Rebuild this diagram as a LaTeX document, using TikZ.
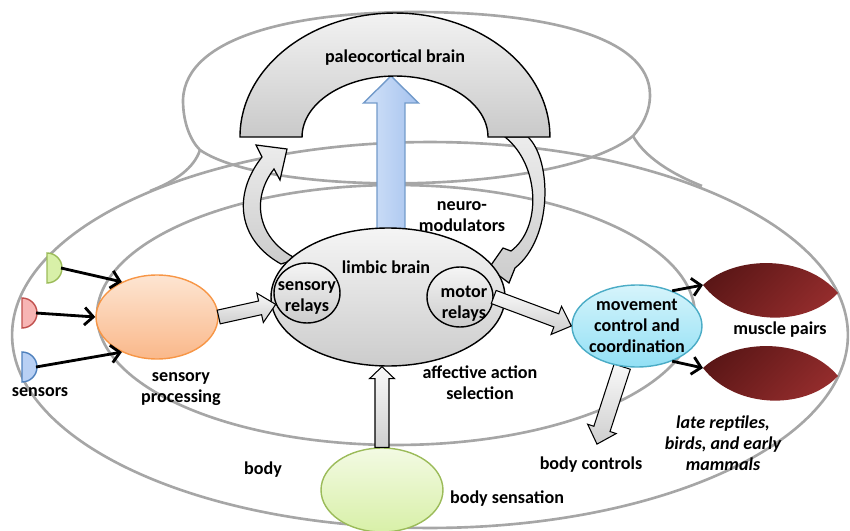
\documentclass[tikz,border=0pt]{standalone}
\usepackage{fontspec}
\setmainfont{Carlito}
\usetikzlibrary{shapes.geometric,calc,arrows.meta,backgrounds}

\definecolor{shellgray}{HTML}{A6A6A6}
\definecolor{orangeline}{HTML}{F79646}
\definecolor{orangetop}{HTML}{FDE5D2}
\definecolor{orangebot}{HTML}{FAB88A}
\definecolor{cyanline}{HTML}{4BACC6}
\definecolor{cyantop}{HTML}{D6F4FB}
\definecolor{cyanbot}{HTML}{92E0F5}
\definecolor{greenline}{HTML}{9BBB59}
\definecolor{greentop}{HTML}{F3FAE3}
\definecolor{greenbot}{HTML}{D8F0A8}
\definecolor{redline}{HTML}{C0504D}
\definecolor{redfill}{HTML}{F7B5B4}
\definecolor{blueline}{HTML}{4F81BD}
\definecolor{bluefill}{HTML}{B8D0F4}
\definecolor{arrowleft}{HTML}{D3E3F9}
\definecolor{arrowright}{HTML}{A5C2EE}
\definecolor{muscledark}{HTML}{5A1616}
\definecolor{musclelight}{HTML}{962D2D}

\newcommand{\lblfont}{\fontsize{10.3}{12}\selectfont}

% fat arrow from #2 to #3: half shaft #4, half head #5, head length #6
\newcommand{\fatarrow}[6][]{%
  \coordinate (hb) at ($(#3)!#6!(#2)$);
  \path[#1] ($(#2)!#4!90:(#3)$) -- ($(hb)!#4!90:(#3)$) -- ($(hb)!#5!90:(#3)$) -- (#3)
    -- ($(hb)!#5!-90:(#3)$) -- ($(hb)!#4!-90:(#3)$) -- ($(#2)!#4!-90:(#3)$) -- cycle;
}

\begin{document}
\begin{tikzpicture}[x=0.02cm, y=-0.02cm, font=\bfseries\lblfont]
    \tikzstyle{blob}=[ellipse, draw, line width=0.8pt, inner sep=0pt]
    \tikzstyle{greyblob}=[blob, draw=black, top color=gray!8, bottom color=gray!40]
    \tikzstyle{shell}=[draw=shellgray, line width=1.5pt]
    \tikzstyle{fatarr}=[draw=black, line width=0.6pt, top color=gray!5, bottom color=gray!38]
    \tikzstyle{curvarr}=[draw=black, line width=0.7pt, top color=gray!15, bottom color=gray!40]
    \tikzstyle{bluearr}=[draw=blueline!80, line width=0.8pt, left color=arrowleft, right color=arrowright]
    \tikzstyle{sensarr}=[line width=1.6pt, -{Straight Barb[length=5pt,width=10pt]}]
    \tikzstyle{muscle}=[top color=muscledark, bottom color=musclelight, shading angle=45]
    \tikzstyle{txt}=[align=center, inner sep=1pt]

    \useasboundingbox (0,0) rectangle (850,531);

    % body, limbic and paleocortical shells
    \begin{scope}[on background layer]
        \draw[shell] (430,335) ellipse [x radius=8.36cm, y radius=3.86cm];
        \draw[shell] (396,315) ellipse [x radius=5.98cm, y radius=2.6cm];
        \draw[shell] (183,100) .. controls (185,35) and (300,12) .. (415,12)
            .. controls (540,12) and (650,35) .. (650,95)
            .. controls (650,112) and (642,126) .. (633,136)
            .. controls (560,195) and (270,198) .. (200,150)
            .. controls (190,140) and (183,122) .. (183,100);
        \draw[shell] (200,150) .. controls (194,168) and (176,181) .. (150,191);
        \draw[shell] (633,136) .. controls (642,152) and (662,170) .. (702,186);
    \end{scope}

    % loops between limbic and paleocortical brain
    \draw[curvarr] (281,264) .. controls (238,240) and (232,195) .. (262,157)
        -- (256,145) -- (287,149) -- (280,180) -- (274,169)
        .. controls (250,200) and (258,240) .. (297,259) -- cycle;
    \draw[curvarr] (505,137) .. controls (540,165) and (542,228) .. (511,251)
        -- (503,248) -- (489,268) -- (509,283) -- (515,268)
        .. controls (553,238) and (552,160) .. (528,137) -- cycle;

    \coordinate (bluetail) at (391,240);
    \coordinate (archtop) at (391,76);
    \fatarrow[bluearr]{bluetail}{archtop}{0.28cm}{0.55cm}{0.54cm}

    \path[draw=black, line width=0.8pt, top color=gray!10, bottom color=gray!42]
        (240,137) arc[start angle=180, end angle=0, x radius=3.1cm, y radius=2.48cm]
        -- (488,137) arc[start angle=0, end angle=180, x radius=1.86cm, y radius=1.22cm] -- cycle;
    \node[txt] (paleo) at (395,58) {paleocortical brain};

    \node[greyblob, minimum width=4.68cm, minimum height=2.76cm] (limbic) at (388,297) {};
    \node[txt] (limbiclbl) at (386,267) {limbic brain};
    \node[greyblob, minimum width=1.32cm, minimum height=1.2cm,
        label={[txt, yshift=-0.1cm]center:sensory\\relays}] (relayS) at (307,293) {};
    \node[greyblob, minimum width=1.32cm, minimum height=1.2cm,
        label={[txt, xshift=0.08cm, yshift=-0.14cm]center:motor\\relays}] (relayM) at (460,297) {};

    \node[blob, draw=orangeline, top color=orangetop, bottom color=orangebot,
        minimum width=2.44cm, minimum height=1.68cm] (sensproc) at (157,317) {};
    \node[blob, draw=cyanline, top color=cyantop, bottom color=cyanbot,
        minimum width=2.6cm, minimum height=1.64cm,
        label={[txt]center:movement\\control and\\coordination}] (move) at (637,326) {};
    \node[blob, draw=greenline, top color=greentop, bottom color=greenbot,
        minimum width=2.44cm, minimum height=1.68cm] (bodysens) at (382,490) {};

    % sensors
    \foreach \name/\x/\y/\fc/\dc in {sensG/47/268/greenbot/greenline,
                                     sensR/22/313/redfill/redline,
                                     sensB/22/367/bluefill/blueline} {
        \draw[draw=\dc, fill=\fc, line width=0.8pt] (\x,\y-15)
            arc[start angle=90, end angle=-90, radius=0.3cm] -- cycle;
        \coordinate (\name) at (\x+14,\y);
    }
    \foreach \s/\a in {sensG/135, sensR/180, sensB/225}
        \draw[sensarr] (\s) -- (sensproc.\a);

    % muscle pairs
    \foreach \m/\y in {muscleA/285, muscleB/368} {
        \coordinate (\m) at (703,\y);
        \path[muscle] (\m) .. controls (735,\y-30) and (805,\y-31) .. (838,\y+8)
            .. controls (805,\y+43) and (735,\y+41) .. (\m) -- cycle;
    }
    \draw[sensarr] (move.45) -- (muscleA);
    \draw[sensarr] (move.-45) -- (muscleB);

    % labels
    \node[txt] (neuro) at (462,217) {neuro-\\modulators};
    \node[txt] (sensprocLbl) at (181,389) {sensory\\processing};
    \node[txt] (sensorsLbl) at (40,392) {sensors};
    \node[txt] (affect) at (480,383) {affective action\\selection};
    \node[txt] (bodyLbl) at (263,470) {body};
    \node[txt] (bodyctrl) at (591,465) {body controls};
    \node[txt] (bodysensLbl) at (507,499) {body sensation};
    \node[txt] (musclesLbl) at (780,330) {muscle pairs};
    \node[txt, font=\bfseries\itshape\lblfont] (era) at (723,443) {late reptiles,\\birds, and early\\mammals};

    % relays and controls
    \fatarrow[fatarr]{sensproc.east}{relayS.200}{0.14cm}{0.3cm}{0.32cm}
    \fatarrow[fatarr]{relayM.east}{move.west}{0.14cm}{0.3cm}{0.32cm}
    \coordinate (ctrltip) at ($(bodyctrl.north)+(6,-11)$);
    \coordinate (limbot) at (bodysens.north |- limbic.south);
    \begin{scope}[on background layer]
        \fatarrow[fatarr]{move.250}{ctrltip}{0.17cm}{0.3cm}{0.32cm}
    \end{scope}
    \fatarrow[fatarr]{bodysens.north}{limbot}{0.14cm}{0.25cm}{0.24cm}
\end{tikzpicture}
\end{document}
